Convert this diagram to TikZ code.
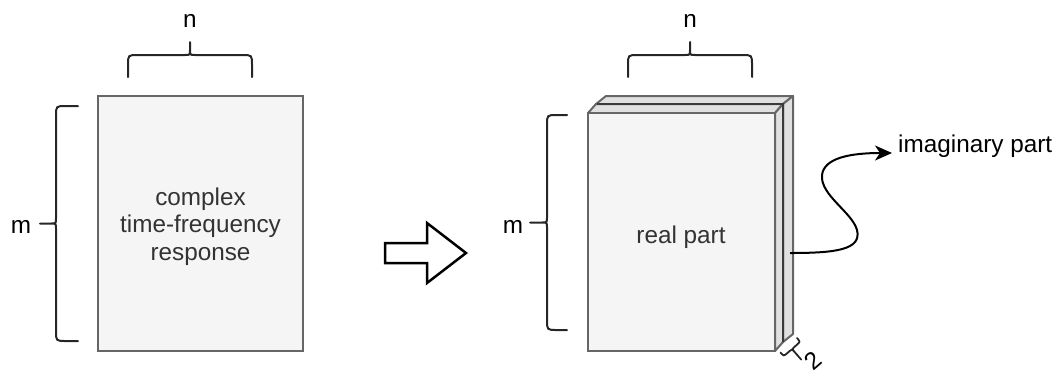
\documentclass[tikz,border=0pt]{standalone}
\usepackage{fontspec}
\setmainfont{Liberation Sans}
\usetikzlibrary{arrows.meta,calc}
\definecolor{boxfill}{HTML}{F5F5F5}
\definecolor{boxline}{HTML}{666666}
\definecolor{depthfill}{HTML}{E0E0E0}
\definecolor{txt}{HTML}{333333}
\definecolor{seam}{HTML}{3A3A3A}
% brace in local coordinates: #1 half width, #2 end offset, #3 tip length, #4 corner radius, #5 middle radius
\newcommand{\bracepath}[5]{%
  (-#1,#2) -- (-#1,#4) .. controls (-#1,0) .. (-#1+#4,0) -- (-#5,0) .. controls (0,0) .. (0,-#5) -- (0,-#3)
  (0,-#5) .. controls (0,0) .. (#5,0) -- (#1-#4,0) .. controls (#1,0) .. (#1,#4) -- (#1,#2)}
\tikzset{
  lbl/.style={font=\fontsize{24.3}{27.5}\selectfont, text=black, inner sep=0pt},
  boxtext/.style={font=\fontsize{24.3}{27.5}\selectfont, text=txt, align=center, inner sep=0pt},
  plate/.style={draw=boxline, fill=boxfill, line width=2pt, inner sep=0pt},
  depth/.style={draw=boxline, fill=depthfill, line width=2pt, line join=round},
  bracestyle/.style={draw=black!85, line width=2pt, line cap=round},
  conn/.style={draw=black, line width=2pt, -{Stealth[length=17pt,width=15pt,inset=5pt]}},
  bigarrow/.style={draw=black, fill=white, line width=2.5pt, line join=miter}
}
\begin{document}
\begin{tikzpicture}[x=1pt,y=-1pt]
\path[use as bounding box] (0,0) rectangle (1056,376);

% left box
\node[plate, minimum width=205pt, minimum height=255pt] (cplx) at (200.5,223.5) {};
\node[boxtext] (cplxtext) at (200.5,226.4) {complex\\time-frequency\\response};

% left braces
\begin{scope}[shift={(190,55)}]
  \draw[bracestyle] \bracepath{62}{22}{13}{10}{5};
\end{scope}
\node[lbl, anchor=base] (n1) at (190,27) {n};
\begin{scope}[shift={(56,223.5)}, rotate=90]
  \draw[bracestyle] \bracepath{117.5}{22}{16}{10}{5};
\end{scope}
\node[lbl, anchor=base] (m1) at (21,233) {m};

% hollow arrow
\draw[bigarrow] (385,243) -- (427,243) -- (427,223) -- (466,253) -- (427,283) -- (427,263) -- (385,263) -- cycle;

% right stack: back cube
\draw[depth] (596,104) -- (606,96) -- (793,96) -- (783,104) -- cycle;
\draw[depth] (783,104) -- (793,96) -- (793,334) -- (783,342) -- cycle;
% front cube
\draw[depth] (588,113) -- (596,104) -- (783,104) -- (775,113) -- cycle;
\draw[depth] (775,113) -- (783,104) -- (783,342) -- (775,351) -- cycle;
\draw[seam, line width=2pt] (597,104) -- (783,104) -- (783,342);
\node[plate, minimum width=187pt, minimum height=238pt] (real) at (681.5,232) {};
\node[boxtext, anchor=base] (realtext) at (681,243) {real part};

% right braces
\begin{scope}[shift={(690,55)}]
  \draw[bracestyle] \bracepath{62}{22}{13}{10}{5};
\end{scope}
\node[lbl, anchor=base] (n2) at (690,27) {n};
\begin{scope}[shift={(547,222.5)}, rotate=90]
  \draw[bracestyle] \bracepath{107.5}{20}{17}{10}{5};
\end{scope}
\node[lbl, anchor=base] (m2) at (513,233) {m};

% small depth brace
\begin{scope}[shift={(792,349)}, rotate=221]
  \draw[bracestyle, line width=1.8pt] \bracepath{11}{5}{14}{5}{3};
\end{scope}
\node[lbl, rotate=41] (two) at (813,361) {2};

% imaginary part
\node[lbl, anchor=base west] (imag) at (898,152) {imaginary part};
\coordinate (sq) at (790,253);
\draw[conn] (sq) .. controls (835,253) and (862,250) .. (857,230)
  .. controls (852,212) and (820,195) .. (822,175)
  .. controls (824,158) and (850,153) .. ($(imag.base west)+(-6,1)$);
\end{tikzpicture}
\end{document}
